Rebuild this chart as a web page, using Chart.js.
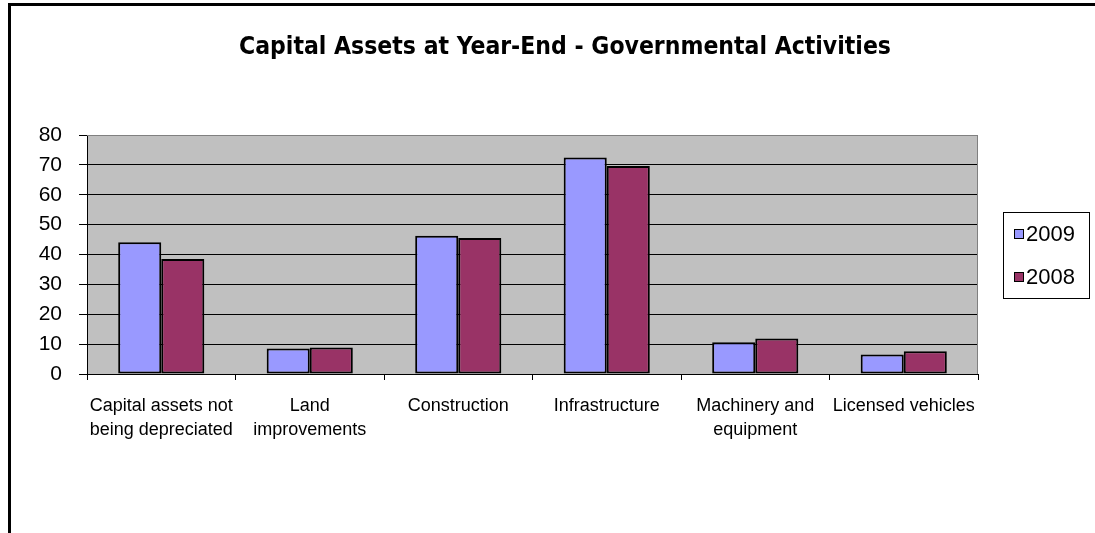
<!DOCTYPE html>
<html>
<head>
<meta charset="utf-8">
<title>Capital Assets at Year-End</title>
<script src="https://cdn.jsdelivr.net/npm/chart.js@4/dist/chart.umd.min.js"></script>
<style>
  html, body { margin: 0; padding: 0; background: #fff; }
  #frame {
    position: absolute; left: 8px; top: 3px; width: 1085px; height: 530px;
    border-left: 3px solid #000; border-top: 3px solid #000;
  }
  .wrap { position: absolute; left: 0; top: 0; width: 1095px; height: 533px; }
</style>
</head>
<body>
<div id="frame"></div>
<div class="wrap"><canvas id="assetsChart"></canvas></div>
<script>
// 자산 분류 (두 줄 라벨)
const categories = [
  ["Capital assets not", "being depreciated"],
  ["Land", "improvements"],
  "Construction",
  "Infrastructure",
  ["Machinery and", "equipment"],
  "Licensed vehicles",
];
const seriesLabels = ["2009", "2008"];
const values2009 = [44.1, 8.5, 46.3, 72.5, 10.6, 6.5];
const values2008 = [38.5, 8.9, 45.5, 69.6, 11.9, 7.6];
const yMin = 0;
const yMax = 80;
const yStep = 10;

const chartTitle = "Capital Assets at Year-End - Governmental Activities";

// 회색 플롯 배경 + 제목 + 테두리 범례
const excelLook = {
  id: "excelLook",
  beforeDraw(chart) {
    const { ctx, chartArea: a } = chart;
    ctx.save();
    ctx.fillStyle = "#c0c0c0";
    ctx.fillRect(a.left, a.top, a.right - a.left, a.bottom - a.top);
    ctx.restore();
  },
  beforeDatasetsDraw(chart) {
    const { ctx, chartArea: a } = chart;
    ctx.save();
    ctx.strokeStyle = "#808080";
    ctx.lineWidth = 1;
    ctx.beginPath();
    ctx.moveTo(a.left, a.top + 0.5);
    ctx.lineTo(a.right - 0.5, a.top + 0.5);
    ctx.lineTo(a.right - 0.5, a.bottom);
    ctx.stroke();
    ctx.restore();
  },
  afterDraw(chart) {
    const { ctx, chartArea: a } = chart;
    ctx.save();

    // 제목
    ctx.fillStyle = "#000";
    ctx.font = 'bold 24.5px "Liberation Sans Narrow", "DejaVu Sans Condensed", sans-serif';
    ctx.textAlign = "center";
    ctx.textBaseline = "middle";
    ctx.fillText(chartTitle, 565, 48);

    // 범례
    const bx = a.right + 25;
    const bw = 86;
    const bh = 86;
    const by = Math.round((a.top + a.bottom) / 2 - bh / 2);
    ctx.strokeStyle = "#000";
    ctx.lineWidth = 1;
    ctx.strokeRect(bx + 0.5, by + 0.5, bw, bh);

    ctx.font = '22px "Liberation Sans", Arial, sans-serif';
    ctx.textAlign = "left";
    chart.data.datasets.forEach((ds, i) => {
      const cy = by + 22 + i * 43;
      ctx.fillStyle = ds.backgroundColor;
      ctx.fillRect(bx + 11, cy - 5, 10, 10);
      ctx.strokeRect(bx + 11.5, cy - 4.5, 9, 9);
      ctx.fillStyle = "#000";
      ctx.fillText(ds.label, bx + 23, cy + 1);
    });
    ctx.restore();
  },
};

const ctxAssets = document.getElementById("assetsChart").getContext("2d");

const assetsChart = new Chart(ctxAssets, {
  type: "bar",
  data: {
    labels: categories,
    datasets: [
      {
        label: seriesLabels[0],
        data: values2009,
        backgroundColor: "#9999ff",
        borderColor: "#000",
        borderWidth: 2,
        borderSkipped: false,
      },
      {
        label: seriesLabels[1],
        data: values2008,
        backgroundColor: "#993366",
        borderColor: "#000",
        borderWidth: 2,
        borderSkipped: false,
      },
    ],
  },
  options: {
    responsive: true,
    maintainAspectRatio: false,
    animation: false,
    datasets: {
      bar: {
        categoryPercentage: 0.58,
        barPercentage: 1,
      },
    },
    layout: {
      padding: { top: 135, right: 117, bottom: 0, left: 0 },
    },
    plugins: {
      legend: { display: false },
      title: { display: false },
      tooltip: { enabled: false },
    },
    scales: {
      x: {
        afterFit: (scale) => { scale.height = 159; },
        grid: {
          drawOnChartArea: false,
          drawTicks: true,
          tickLength: 6,
          color: "#000",
        },
        border: { color: "#000", width: 1 },
        ticks: {
          color: "#000",
          padding: 14,
          maxRotation: 0,
          autoSkip: false,
          font: { family: '"Liberation Sans", Arial, sans-serif', size: 18, lineHeight: 1.33 },
        },
      },
      y: {
        min: yMin,
        max: yMax,
        afterFit: (scale) => { scale.width = 87; },
        grid: {
          color: (c) => (c.tick && c.tick.value === yMax ? "#808080" : "#000"),
          tickColor: "#000",
          tickLength: 8,
        },
        border: { color: "#000", width: 1 },
        ticks: {
          stepSize: yStep,
          color: "#000",
          padding: 17,
          font: { family: '"Liberation Sans", Arial, sans-serif', size: 21 },
        },
      },
    },
  },
  plugins: [excelLook],
});
</script>
</body>
</html>
